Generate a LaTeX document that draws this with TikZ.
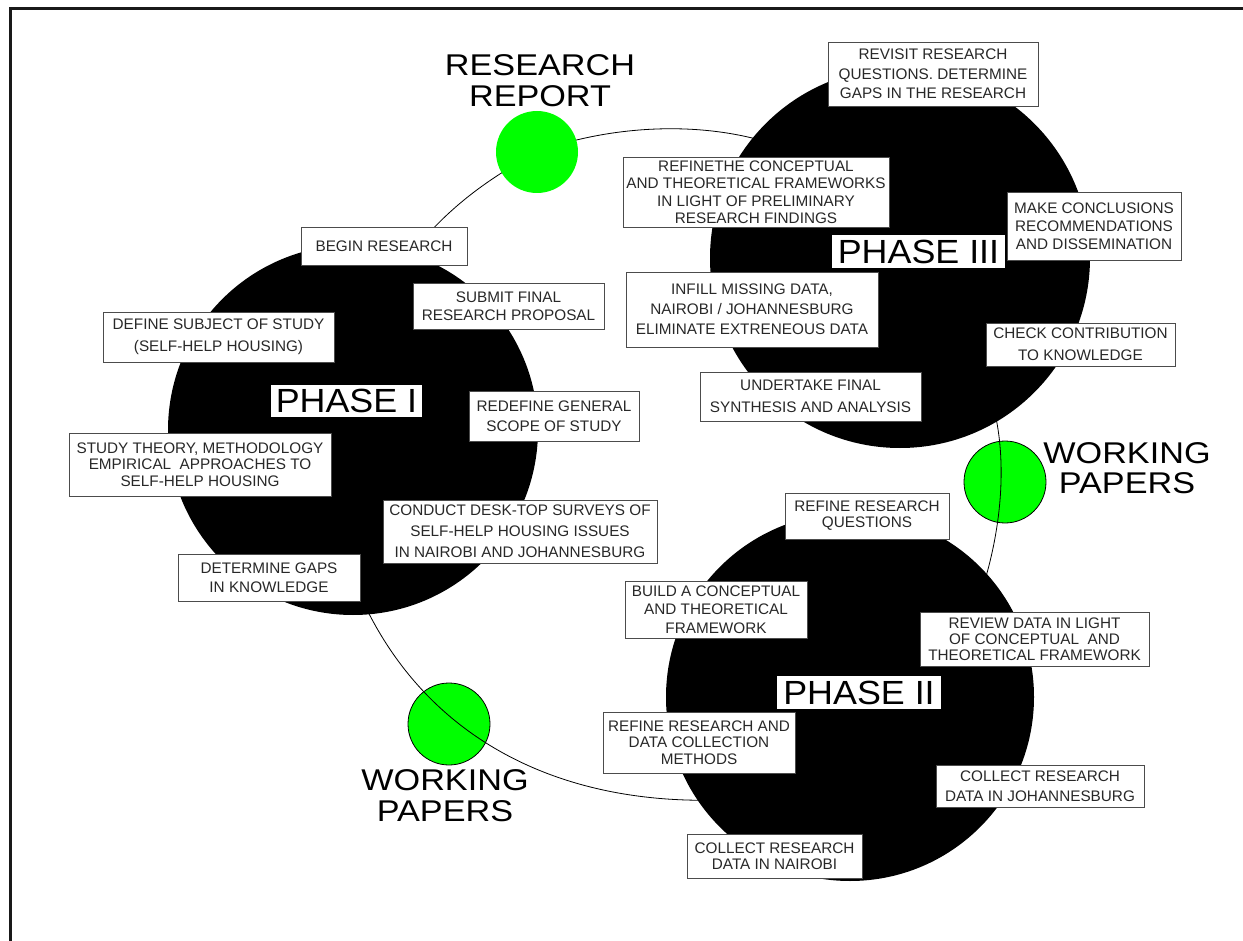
\documentclass[tikz,border=0pt]{standalone}
\usepackage{fontspec}
\setmainfont{Liberation Sans}
\newfontfamily\bigfont[FakeStretch=1.14]{Liberation Sans}
\newfontfamily\phasefont[FakeStretch=1.07]{Liberation Sans}
\definecolor{wpgreen}{RGB}{0,255,0}
\definecolor{txtgray}{RGB}{40,40,40}
\begin{document}
\begin{tikzpicture}[x=1pt,y=-1pt,
  box/.style={draw=black!70, line width=0.9pt, fill=white, inner sep=0pt, align=center,
    text=txtgray, font=\fontsize{15.3}{#1}\selectfont},
  box/.default=19,
  blackdisc/.style={circle, fill=black, inner sep=0pt},
  greendisc/.style={circle, fill=wpgreen, inner sep=0pt, minimum size=82},
  wpdisc/.style={greendisc, draw=black, line width=0.8pt},
  phaselbl/.style={fill=white, inner sep=0pt, text=black, font=\phasefont\fontsize{33.5}{36}\selectfont},
  biglbl/.style={align=center, inner sep=0pt, text=black, font=\bigfont\fontsize{30}{30.5}\selectfont},
  cycleline/.style={line width=0.8pt, black}
]
\useasboundingbox (0,0) rectangle (1243,941);
% frame
\draw[line width=3pt, black!90] (10,941) -- (10,9) -- (1243,9);

% working papers discs (under the cycle line)
\node[wpdisc] (wpr) at (1005,482) {};
\node[wpdisc] (wpl) at (449,724) {};

% cycle line
\coordinate (s1a) at (410,255);
\coordinate (s2b) at (790,150);
\coordinate (s3a) at (990,395);
\coordinate (s3b) at (975,610);
\coordinate (s4a) at (720,800);
\coordinate (s4b) at (360,595);
\node[greendisc, draw=none, fill=none] (rrpos) at (537,152) {};
\draw[cycleline] (s1a) .. controls (450,205) and (490,178) .. (rrpos.center);
\draw[cycleline] (rrpos.center) .. controls (610,125) and (710,118) .. (s2b);
\draw[cycleline] (s3a) .. controls (1008,450) and (1005,530) .. (s3b);
\draw[cycleline] (s4a) .. controls (560,805) and (425,740) .. (s4b);

% research report disc (over the line)
\node[greendisc] (rr) at (537,152) {};

% phase discs
\node[blackdisc, minimum size=370] (ph1) at (353,430) {};
\node[blackdisc, minimum size=380] (ph3) at (900,258) {};
\node[blackdisc, minimum size=368] (ph2) at (850,697) {};

% phase labels
\node[phaselbl, minimum width=151, minimum height=32] (p1) at (346.5,401) {PHASE I};
\node[phaselbl, minimum width=173, minimum height=33] (p3) at (918.5,251.5) {PHASE III};
\node[phaselbl, minimum width=164, minimum height=33] (p2) at (859,692.5) {PHASE II};

% green labels
\node[biglbl] (rrl) at (540,80.5) {RESEARCH\\REPORT};
\node[biglbl] (wprl) at (1127,468) {WORKING\\PAPERS};
\node[biglbl] (wpll) at (445,795.5) {WORKING\\PAPERS};

% boxes phase III
\node[box=19.7, minimum width=210, minimum height=64] (revisit) at (933,74) {REVISIT RESEARCH\\QUESTIONS. DETERMINE\\GAPS IN THE RESEARCH};
\node[box=17.5, minimum width=266, minimum height=70] (refine3) at (756,192) {REFINETHE CONCEPTUAL\\AND THEORETICAL FRAMEWORKS\\IN LIGHT OF PRELIMINARY\\RESEARCH FINDINGS};
\node[box=18, minimum width=174, minimum height=68] (conclude) at (1094,226) {MAKE CONCLUSIONS\\RECOMMENDATIONS\\AND DISSEMINATION};
\node[box=20, minimum width=252, minimum height=75] (infill) at (752,309.5) {INFILL MISSING DATA,\\NAIROBI / JOHANNESBURG\\ELIMINATE EXTRENEOUS DATA};
\node[box=22, minimum width=189, minimum height=43] (check) at (1080.5,344.5) {CHECK CONTRIBUTION\\TO KNOWLEDGE};
\node[box=22, minimum width=221, minimum height=49] (undertake) at (810.5,396.5) {UNDERTAKE FINAL\\SYNTHESIS AND ANALYSIS};

% boxes phase I
\node[box, minimum width=166, minimum height=38] (begin) at (384,246) {BEGIN RESEARCH};
\node[box=18, minimum width=191, minimum height=46] (submit) at (508.5,306) {SUBMIT FINAL\\RESEARCH PROPOSAL};
\node[box=22, minimum width=231, minimum height=50] (define) at (218.5,337) {DEFINE SUBJECT OF STUDY\\(SELF-HELP HOUSING)};
\node[box=20, minimum width=170, minimum height=50] (redefine) at (554,416) {REDEFINE GENERAL\\SCOPE OF STUDY};
\node[box=16.7, minimum width=262, minimum height=63] (study) at (200,464.5) {STUDY THEORY, METHODOLOGY\\EMPIRICAL\ \ APPROACHES TO\\SELF-HELP HOUSING};
\node[box=21, minimum width=274, minimum height=63] (conduct) at (520,531.5) {CONDUCT DESK-TOP SURVEYS OF\\SELF-HELP HOUSING ISSUES\\IN NAIROBI AND JOHANNESBURG};
\node[box=19, minimum width=182, minimum height=47] (gaps) at (269,577.5) {DETERMINE GAPS\\IN KNOWLEDGE};

% boxes phase II
\node[box=16, minimum width=164, minimum height=46] (refq) at (867,516) {REFINE RESEARCH\\QUESTIONS};
\node[box=18.5, minimum width=182, minimum height=57] (build) at (716,609.5) {BUILD A CONCEPTUAL\\AND THEORETICAL\\FRAMEWORK};
\node[box=16, minimum width=229, minimum height=54] (review) at (1034.5,639) {REVIEW DATA IN LIGHT\\OF CONCEPTUAL\ \ AND\\THEORETICAL FRAMEWORK};
\node[box=16.5, minimum width=192, minimum height=61] (refmeth) at (699,742.5) {REFINE RESEARCH AND\\DATA COLLECTION\\METHODS};
\node[box=20, minimum width=208, minimum height=42] (coljoh) at (1040,786) {COLLECT RESEARCH\\DATA IN JOHANNESBURG};
\node[box=16, minimum width=175, minimum height=44] (colnai) at (774.5,856) {COLLECT RESEARCH\\DATA IN NAIROBI};
\end{tikzpicture}
\end{document}
